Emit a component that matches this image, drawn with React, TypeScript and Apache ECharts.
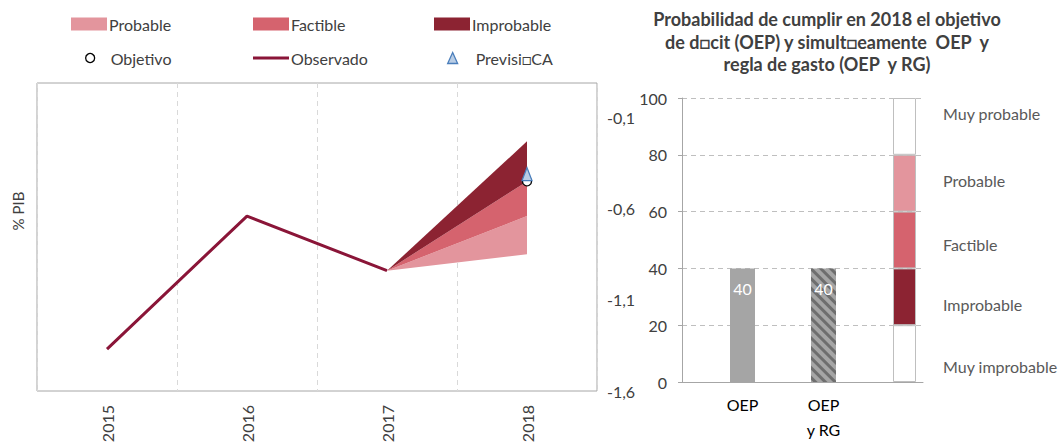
import React, { useEffect, useRef } from 'react';
import * as echarts from 'echarts';

// ---------- data ----------
const years = ['2015', '2016', '2017', '2018'];
const observed: (number | null)[] = [-1.37, -0.64, -0.94, null];
const fanLow: (number | null)[] = [null, null, -0.94, -0.85];
const fanProbableTop: (number | null)[] = [null, null, -0.94, -0.64];
const fanFactibleTop: (number | null)[] = [null, null, -0.94, -0.45];
const fanImprobableTop: (number | null)[] = [null, null, -0.94, -0.23];
const objetivo: (number | null)[] = [null, null, null, -0.45];
const prevision: (number | null)[] = [null, null, null, -0.41];
const leftTicks = [-1.6, -1.1, -0.6, -0.1];

const barCategories = ['OEP', 'OEP\ny RG', ''];
const barValues: (number | null)[] = [40, 40, null];
const scaleBounds = [0, 20, 40, 60, 80, 100];
const scaleLabels = ['Muy improbable', 'Improbable', 'Factible', 'Probable', 'Muy probable'];

const titleText = 'Probabilidad de cumplir en 2018 el objetivo\nde d\u25A1cit (OEP) y simult\u25A1eamente  OEP  y\nregla de gasto (OEP  y RG)';
const names = {
  probable: 'Probable',
  factible: 'Factible',
  improbable: 'Improbable',
  objetivo: 'Objetivo',
  observado: 'Observado',
  prevision: 'Previsi\u25A1CA',
};

// ---------- styles ----------
const FONT = 'Lato';
const C_PROB = '#E3959D';
const C_FACT = '#D5636E';
const C_IMPR = '#8C2332';
const C_LINE = '#8A1538';
const C_TEXT = '#404040';
const C_BAR = '#A5A5A5';

const diff = (a: (number | null)[], b: (number | null)[]) =>
  a.map((v, i) => (v == null || b[i] == null ? null : +((v as number) - (b[i] as number)).toFixed(4)));

function legendOne(name: string, left: number, top: number, icon: string, w: number, h: number, itemStyle: any, padLeft = 0) {
  return {
    left,
    top,
    padding: 0,
    itemWidth: w,
    itemHeight: h,
    selectedMode: false,
    data: [{ name, icon, itemStyle }],
    textStyle: { color: C_TEXT, fontSize: 16, fontFamily: FONT, padding: [0, 0, 0, padLeft] },
  };
}

function buildOption(): any {
  const scaleColors = ['#FFFFFF', C_IMPR, C_FACT, C_PROB, '#FFFFFF'];
  const scaleLabelOffsets = [13, 8, 4, -3, -13];

  const fanCommon = {
    type: 'line',
    xAxisIndex: 0,
    yAxisIndex: 0,
    stack: 'fan',
    stackStrategy: 'all',
    symbol: 'none',
    silent: true,
    lineStyle: { opacity: 0, width: 0 },
    z: 2,
  };

  return {
    animation: false,
    textStyle: { fontFamily: FONT },
    legend: [
      legendOne(names.probable, 71, 16, 'rect', 36, 13, { color: C_PROB, borderWidth: 0 }, -3),
      legendOne(names.factible, 253, 16, 'rect', 36, 13, { color: C_FACT, borderWidth: 0 }, -3),
      legendOne(names.improbable, 434, 16, 'rect', 36, 13, { color: C_IMPR, borderWidth: 0 }, -3),
      legendOne(names.objetivo, 85, 50, 'circle', 9, 9, { color: '#FFFFFF', borderColor: '#000000', borderWidth: 1.3 }, 11),
      legendOne(names.observado, 253, 50, 'rect', 36, 3, { color: C_LINE, borderWidth: 0 }, -3),
      legendOne(names.prevision, 447, 50, 'triangle', 10, 11, { color: '#B9CDE5', borderColor: '#4A7EBB', borderWidth: 1.3 }, 13),
    ],
    grid: [
      { left: 37, top: 83, width: 560, height: 308, show: true, borderColor: '#A6A6A6', borderWidth: 1, backgroundColor: 'transparent', containLabel: false, outerBoundsMode: 'none' },
      { left: 682, top: 98, width: 241, height: 284, containLabel: false, outerBoundsMode: 'none' },
      { left: 702, top: 98, width: 243, height: 284, containLabel: false, outerBoundsMode: 'none' },
    ],
    xAxis: [
      {
        gridIndex: 0,
        type: 'category',
        data: years,
        boundaryGap: true,
        axisLine: { show: false },
        axisTick: { show: false },
        splitLine: { show: true, lineStyle: { color: '#D9D9D9', type: [5, 4], width: 1 } },
        axisLabel: { rotate: 90, margin: 14, color: C_TEXT, fontSize: 16, fontFamily: FONT, interval: 0 },
      },
      {
        gridIndex: 1,
        type: 'value',
        min: 0,
        max: 1,
        axisLine: { show: true, lineStyle: { color: '#A6A6A6', width: 1 } },
        axisTick: { show: false },
        axisLabel: { show: false },
        splitLine: { show: false },
      },
      {
        gridIndex: 2,
        type: 'category',
        data: barCategories,
        axisLine: { show: false },
        axisTick: { show: false },
        splitLine: { show: false },
        axisLabel: { margin: 10, color: '#000000', fontSize: 16, lineHeight: 25, fontFamily: FONT, interval: 0 },
      },
      {
        gridIndex: 2,
        type: 'category',
        data: barCategories,
        show: false,
      },
    ],
    yAxis: [
      {
        gridIndex: 0,
        type: 'value',
        position: 'right',
        min: -1.6,
        max: 0.09,
        axisLine: { show: false },
        axisTick: { show: false },
        splitLine: { show: false },
        axisLabel: {
          customValues: leftTicks,
          margin: 10,
          align: 'left',
          color: C_TEXT,
          fontSize: 16,
          fontFamily: FONT,
          formatter: (v: number) => v.toFixed(1).replace('.', ','),
        },
      },
      {
        gridIndex: 1,
        type: 'value',
        min: 0,
        max: 100,
        interval: 20,
        axisLine: { show: true, lineStyle: { color: '#A6A6A6', width: 1 } },
        axisTick: { show: true, length: 4, lineStyle: { color: '#A6A6A6' } },
        splitLine: { show: true, lineStyle: { color: '#BFBFBF', type: [5, 4], width: 1 } },
        axisLabel: { margin: 15, color: C_TEXT, fontSize: 16, fontFamily: FONT },
      },
      {
        gridIndex: 2,
        type: 'value',
        min: 0,
        max: 100,
        show: false,
        splitLine: { show: false },
      },
    ],
    series: [
      { ...fanCommon, name: 'fanBase', data: fanLow },
      { ...fanCommon, name: names.probable, data: diff(fanProbableTop, fanLow), areaStyle: { color: C_PROB, opacity: 1 }, itemStyle: { color: C_PROB } },
      { ...fanCommon, name: names.factible, data: diff(fanFactibleTop, fanProbableTop), areaStyle: { color: C_FACT, opacity: 1 }, itemStyle: { color: C_FACT } },
      { ...fanCommon, name: names.improbable, data: diff(fanImprobableTop, fanFactibleTop), areaStyle: { color: C_IMPR, opacity: 1 }, itemStyle: { color: C_IMPR } },
      {
        type: 'line',
        name: names.observado,
        xAxisIndex: 0,
        yAxisIndex: 0,
        data: observed,
        symbol: 'none',
        lineStyle: { color: C_LINE, width: 3 },
        itemStyle: { color: C_LINE },
        z: 3,
      },
      {
        type: 'scatter',
        name: names.objetivo,
        xAxisIndex: 0,
        yAxisIndex: 0,
        data: objetivo,
        symbol: 'circle',
        symbolSize: 9,
        itemStyle: { color: '#FFFFFF', borderColor: '#000000', borderWidth: 1.3, opacity: 1 },
        z: 4,
      },
      {
        type: 'scatter',
        name: names.prevision,
        xAxisIndex: 0,
        yAxisIndex: 0,
        data: prevision,
        symbol: 'triangle',
        symbolSize: [10, 13],
        itemStyle: { color: '#B9CDE5', borderColor: '#4A7EBB', borderWidth: 1.3, opacity: 1 },
        z: 5,
      },
      {
        type: 'bar',
        name: 'barras',
        xAxisIndex: 2,
        yAxisIndex: 2,
        barWidth: 25,
        data: barValues.map((v, i) =>
          i === 1
            ? {
                value: v,
                itemStyle: {
                  color: C_BAR,
                  decal: {
                    symbol: 'rect',
                    symbolSize: 1,
                    color: '#6E6E6E',
                    dashArrayX: [1, 0],
                    dashArrayY: [3, 4],
                    rotation: Math.PI / 4,
                  },
                },
              }
            : { value: v, itemStyle: { color: C_BAR } }
        ),
        label: { show: true, position: 'insideTop', distance: 12, color: '#FFFFFF', fontSize: 16, fontFamily: FONT },
      },
      ...scaleLabels.map((lab, k) => ({
        type: 'bar',
        name: 'escala' + k,
        xAxisIndex: 3,
        yAxisIndex: 2,
        stack: 'escala',
        barWidth: 23,
        data: barCategories.map((_, i) => (i === 2 ? scaleBounds[k + 1] - scaleBounds[k] : null)),
        itemStyle: { color: scaleColors[k], borderColor: '#BFBFBF', borderWidth: 1 },
        label: {
          show: true,
          position: 'right',
          distance: 27,
          offset: [0, scaleLabelOffsets[k]],
          formatter: lab,
          color: '#595959',
          fontSize: 16,
          fontFamily: FONT,
        },
      })),
    ],
    graphic: [
      {
        type: 'text',
        x: 827,
        y: 8,
        style: {
          text: titleText,
          fill: C_TEXT,
          font: `bold 18px ${FONT}`,
          textAlign: 'center',
          textVerticalAlign: 'top',
          verticalAlign: 'top',
          lineHeight: 22.5,
        },
      },
      {
        type: 'text',
        x: 18,
        y: 211,
        rotation: Math.PI / 2,
        style: {
          text: '% PIB',
          fill: C_TEXT,
          font: `15px ${FONT}`,
          textAlign: 'center',
          textVerticalAlign: 'middle',
          verticalAlign: 'middle',
        },
      },
    ],
  };
}

export default function App() {
  const ref = useRef<HTMLDivElement>(null);
  useEffect(() => {
    if (!ref.current) return;
    const chart = echarts.init(ref.current, null, { renderer: 'svg' });
    chart.setOption(buildOption());
    return () => chart.dispose();
  }, []);
  return (
    <div
      ref={ref}
      style={{ position: 'fixed', left: 0, top: 0, width: 1059, height: 443, background: '#FFFFFF' }}
    />
  );
}
